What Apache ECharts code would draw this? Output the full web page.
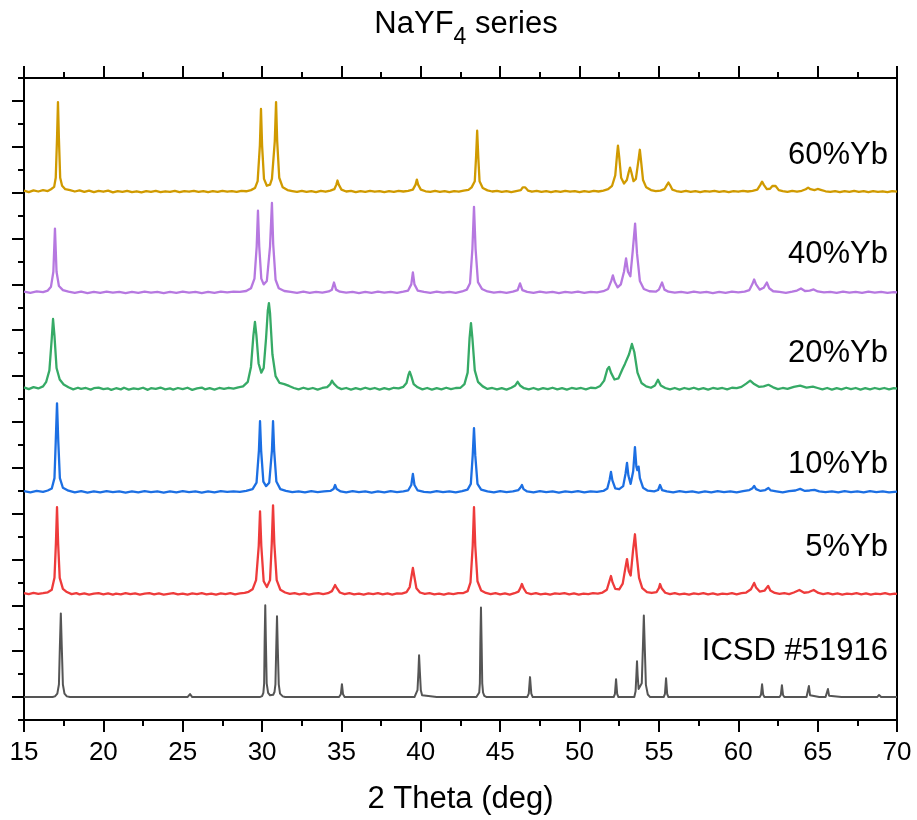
<!DOCTYPE html>
<html>
<head>
<meta charset="utf-8">
<script src="https://cdn.jsdelivr.net/npm/echarts@6/dist/echarts.min.js"></script>
<style>
html, body { margin: 0; padding: 0; background: #fff; }
#chart { width: 917px; height: 820px; }
</style>
</head>
<body>
<div id="chart"></div>
<script>
// Powder XRD patterns of NaYF4 doped with Yb, stacked with vertical offsets.
// Each pattern: [2θ (deg), intensity (a.u.) above its own baseline].

const sampleNames = ['ICSD #51916', '5%Yb', '10%Yb', '20%Yb', '40%Yb', '60%Yb'];
const baselineOffsets = [100, 550, 995, 1445, 1865, 2305];

const xTickValues = [15, 20, 25, 30, 35, 40, 45, 50, 55, 60, 65, 70];

const icsd51916 = [
  [15,0],[16,0],[16.8,0],[16.95,3],[17.1,15],[17.2,55],[17.26,220],[17.32,365],[17.38,220],[17.45,55],[17.55,15],[17.7,3],[17.9,0],
  [19,0],[20,0],[21,0],[22,0],[23,0],[24,0],[25,0],[25.3,0],[25.46,13],[25.6,0],[26.5,0],[27.5,0],[28.5,0],[29.5,0],
  [29.85,0],[30.0,4],[30.08,18],[30.13,60],[30.16,240],[30.2,400],[30.24,240],[30.29,60],[30.38,18],[30.5,8],
  [30.7,10],[30.78,22],[30.84,55],[30.89,210],[30.94,352],[30.99,210],[31.05,55],[31.13,15],[31.3,3],[31.45,0],
  [32.5,0],[33.5,0],[34.5,0],[34.85,0],[34.96,12],[35.03,56],[35.1,12],[35.2,0],[36,0],[37,0],[38,0],[39,0],
  [39.6,0],[39.72,8],[39.79,30],[39.85,110],[39.89,182],[39.94,110],[40.0,30],[40.08,8],[40.2,0],[41,0],[42,0],[43,0],
  [43.5,0],[43.6,5],[43.68,20],[43.72,60],[43.75,235],[43.79,391],[43.83,235],[43.87,60],[43.92,20],[44.0,5],[44.15,0],
  [45,0],[46,0],[46.7,0],[46.8,15],[46.88,87],[46.96,15],[47.05,0],[48,0],[49,0],[50,0],[51,0],
  [52.15,0],[52.23,14],[52.3,78],[52.37,14],[52.45,0],[53,0],
  [53.45,0],[53.53,25],[53.58,95],[53.62,156],[53.66,95],[53.72,35],[53.82,30],[53.92,60],[53.99,215],[54.05,356],[54.11,215],[54.18,53],[54.3,11],[54.45,0],
  [55.3,0],[55.38,14],[55.45,82],[55.52,14],[55.6,0],[56.5,0],[57.5,0],[58.5,0],[59.5,0],
  [60.2,0],[60.3,4],[60.4,0],[61,0],
  [61.35,0],[61.43,10],[61.5,56],[61.57,10],[61.65,0],[62.2,0],
  [62.6,0],[62.68,9],[62.75,52],[62.82,9],[62.9,0],[63.6,0],
  [64.3,0],[64.38,8],[64.45,48],[64.52,8],[64.6,0],[65.1,0],
  [65.5,0],[65.58,6],[65.65,35],[65.72,6],[65.8,0],[66.5,0],[67.5,0],[68.3,0],
  [68.75,0],[68.87,9],[69.0,0],[69.5,0],[70,0]
];

const yb5 = [
  [15,3],[15.3,-1],[15.6,4],[15.9,0],[16.2,3],[16.5,7],[16.75,18],[16.92,70],[17.01,220],[17.08,378],[17.15,220],[17.25,70],[17.45,22],[17.7,8],
  [18.0,-1],[18.3,3],[18.5,-2],[18.8,2],[19.1,-3],[19.4,1],[19.7,3],[20.0,-2],[20.3,2],[20.6,-3],[20.8,1],[21.1,-2],[21.4,3],[21.7,-1],[22.0,2],[22.3,-3],
  [22.6,1],[22.9,3],[23.2,-2],[23.5,2],[23.8,-3],[24.1,0],[24.4,3],[24.7,-2],[25.0,1],[25.3,-3],[25.6,2],[25.9,-1],[26.2,3],[26.5,-2],[26.8,1],[27.1,-3],
  [27.4,2],[27.7,-1],[28.0,3],[28.3,-2],[28.6,2],[28.9,4],[29.15,9],[29.4,20],[29.62,60],[29.79,210],[29.87,360],[29.95,210],[30.1,55],[30.3,30],[30.5,60],
  [30.61,220],[30.69,386],[30.77,220],[30.92,60],[31.15,18],[31.45,6],[31.75,0],[32.05,3],[32.35,-2],[32.65,2],[32.95,-3],[33.25,1],[33.55,3],[33.85,-1],
  [34.15,3],[34.4,12],[34.52,28],[34.6,39],[34.7,26],[34.9,6],[35.2,-1],[35.5,3],[35.8,-2],[36.1,1],[36.4,-3],[36.7,2],[37.0,-1],[37.3,3],[37.6,-2],
  [37.9,2],[38.2,-3],[38.5,2],[38.8,1],[39.1,8],[39.3,30],[39.42,80],[39.5,113],[39.58,80],[39.72,25],[39.95,6],[40.25,0],[40.55,3],[40.85,-2],
  [41.15,1],[41.45,-3],[41.75,2],[42.05,-1],[42.35,3],[42.65,3],[42.95,12],[43.13,50],[43.27,210],[43.35,378],[43.43,210],[43.57,55],[43.8,15],
  [44.1,4],[44.4,-1],[44.7,3],[45.0,-2],[45.3,2],[45.6,-3],[45.9,3],[46.15,10],[46.27,25],[46.37,43],[46.47,25],[46.65,5],[46.95,-1],[47.25,3],
  [47.55,-2],[47.85,1],[48.15,-3],[48.45,2],[48.75,0],[49.05,3],[49.35,-2],[49.65,2],[49.95,-3],[50.25,1],[50.55,-1],[50.85,3],[51.15,1],[51.45,6],
  [51.72,18],[51.88,55],[51.98,78],[52.08,50],[52.25,22],[52.5,20],[52.72,45],[52.88,110],[52.99,152],[53.1,100],[53.22,80],[53.37,190],[53.49,260],
  [53.6,170],[53.75,70],[53.95,25],[54.25,8],[54.55,4],[54.85,8],[55.0,25],[55.07,43],[55.17,25],[55.4,5],[55.7,-1],[56.0,3],[56.3,-2],[56.6,1],
  [56.9,-3],[57.2,2],[57.5,-1],[57.8,3],[58.1,-2],[58.4,2],[58.7,-3],[59.0,1],[59.3,-1],[59.6,3],[59.9,-2],[60.2,3],[60.5,6],[60.8,20],[61.0,48],
  [61.12,28],[61.35,10],[61.65,14],[61.88,35],[62.02,15],[62.3,4],[62.6,0],[62.9,3],[63.2,-1],[63.5,6],[63.85,17],[64.15,5],[64.45,8],[64.75,17],
  [65.05,4],[65.35,-1],[65.65,3],[65.95,-2],[66.25,2],[66.55,-3],[66.85,1],[67.15,-1],[67.45,3],[67.75,-2],[68.05,2],[68.35,-3],[68.65,1],[68.95,-1],
  [69.25,3],[69.55,-2],[69.85,1],[70,0]
];

const yb10 = [
  [15,3],[15.4,-2],[15.8,4],[16.2,0],[16.5,6],[16.75,15],[16.92,60],[17.0,220],[17.08,386],[17.16,220],[17.26,60],[17.45,18],[17.8,5],[18.2,-2],
  [18.6,3],[19.0,-3],[19.4,2],[19.8,-2],[20.2,3],[20.6,-1],[21.0,2],[21.4,-3],[21.8,2],[22.2,-2],[22.6,3],[23.0,-1],[23.4,2],[23.8,-3],[24.2,2],
  [24.6,-2],[25.0,3],[25.4,-1],[25.8,2],[26.2,-3],[26.6,2],[27.0,-2],[27.4,3],[27.8,0],[28.2,2],[28.6,0],[29.0,4],[29.4,12],[29.65,40],[29.8,180],
  [29.87,308],[29.94,180],[30.08,45],[30.25,25],[30.45,40],[30.62,180],[30.69,308],[30.76,180],[30.9,45],[31.15,12],[31.5,4],[31.9,-1],[32.3,2],
  [32.7,-2],[33.1,3],[33.5,-1],[33.9,2],[34.3,4],[34.5,12],[34.6,30],[34.7,12],[34.95,2],[35.3,-2],[35.7,3],[36.1,-1],[36.5,2],[36.9,-3],[37.3,2],
  [37.7,-2],[38.1,3],[38.5,-1],[38.9,2],[39.2,6],[39.4,30],[39.5,78],[39.6,30],[39.8,6],[40.2,0],[40.6,-2],[41.0,3],[41.4,-1],[41.8,2],[42.2,-2],
  [42.6,3],[42.95,10],[43.15,35],[43.27,160],[43.35,278],[43.43,160],[43.57,35],[43.8,10],[44.2,2],[44.6,-2],[45.0,3],[45.4,-1],[45.8,2],[46.15,8],
  [46.27,18],[46.37,30],[46.47,12],[46.7,2],[47.1,-2],[47.5,3],[47.9,-1],[48.3,2],[48.7,-3],[49.1,2],[49.5,-1],[49.9,3],[50.3,-2],[50.7,2],[51.1,0],
  [51.5,4],[51.75,15],[51.9,55],[51.98,87],[52.07,50],[52.25,15],[52.5,12],[52.75,25],[52.9,80],[52.99,126],[53.08,70],[53.22,35],[53.38,90],
  [53.49,195],[53.58,110],[53.64,95],[53.72,110],[53.8,60],[54.0,18],[54.3,5],[54.7,2],[54.95,8],[55.07,30],[55.2,8],[55.5,2],[55.9,-2],[56.3,3],
  [56.7,-1],[57.1,2],[57.5,-3],[57.9,2],[58.3,-2],[58.7,3],[59.1,-1],[59.5,2],[59.9,-2],[60.3,3],[60.7,8],[60.9,16],[61.0,26],[61.12,12],[61.4,4],
  [61.7,8],[61.9,17],[62.05,6],[62.4,2],[62.8,-2],[63.2,3],[63.6,6],[63.9,13],[64.2,4],[64.5,6],[64.8,9],[65.1,2],[65.5,-1],[65.9,2],[66.3,-2],
  [66.7,3],[67.1,-1],[67.5,2],[67.9,-2],[68.3,3],[68.7,-1],[69.1,2],[69.5,-2],[70,1]
];

const yb20 = [
  [15,6],[15.3,-2],[15.6,7],[15.9,1],[16.2,10],[16.4,30],[16.6,80],[16.75,220],[16.83,304],[16.92,230],[17.05,90],[17.25,40],[17.5,18],[17.8,6],
  [18.1,-3],[18.4,4],[18.6,-1],[18.9,3],[19.2,-4],[19.4,2],[19.7,5],[20.0,-2],[20.3,1],[20.5,-5],[20.8,2],[21.1,-3],[21.3,4],[21.6,-4],[21.9,1],
  [22.2,-2],[22.5,4],[22.8,-5],[23.0,2],[23.3,-1],[23.6,5],[23.9,-3],[24.2,1],[24.4,-4],[24.7,3],[25.0,-2],[25.3,4],[25.6,-5],[25.9,1],[26.2,5],
  [26.4,-3],[26.7,2],[27.0,-4],[27.3,3],[27.6,-1],[27.9,4],[28.2,0],[28.5,6],[28.8,10],[29.1,30],[29.3,95],[29.45,230],[29.55,291],[29.64,235],
  [29.78,110],[29.95,70],[30.1,90],[30.25,220],[30.36,340],[30.43,373],[30.5,330],[30.65,150],[30.85,55],[31.1,25],[31.4,20],[31.5,26],[31.7,12],
  [32.0,3],[32.3,-3],[32.6,4],[32.9,-2],[33.2,3],[33.5,-4],[33.8,3],[34.1,7],[34.3,20],[34.4,35],[34.52,22],[34.75,6],[35.0,-2],[35.3,3],[35.6,-4],
  [35.9,2],[36.2,-3],[36.5,4],[36.8,-2],[37.1,3],[37.4,-4],[37.7,2],[38.0,-3],[38.3,4],[38.6,1],[38.9,8],[39.1,25],[39.22,60],[39.3,74],[39.4,55],
  [39.55,20],[39.8,6],[40.1,-3],[40.4,3],[40.7,-4],[41.0,2],[41.3,-3],[41.6,4],[41.9,-2],[42.2,3],[42.5,4],[42.75,20],[42.95,70],[43.07,220],
  [43.16,286],[43.25,220],[43.4,80],[43.6,30],[43.9,10],[44.2,-1],[44.5,3],[44.8,-3],[45.1,2],[45.4,-4],[45.7,4],[45.95,14],[46.1,30],[46.25,14],
  [46.5,2],[46.8,-3],[47.1,3],[47.4,-4],[47.7,2],[48.0,-2],[48.3,4],[48.6,-3],[48.9,2],[49.2,-4],[49.5,3],[49.8,-1],[50.1,3],[50.4,-3],[50.7,4],
  [51.0,2],[51.3,12],[51.55,35],[51.75,85],[51.86,95],[51.98,70],[52.2,40],[52.45,45],[52.7,85],[52.86,108],[52.98,100],[53.12,150],[53.3,195],
  [53.45,160],[53.65,70],[53.9,25],[54.2,10],[54.5,4],[54.75,14],[54.94,39],[55.12,14],[55.4,3],[55.7,-3],[56.0,3],[56.3,-4],[56.6,3],[56.9,-2],
  [57.2,4],[57.5,-3],[57.8,2],[58.1,-4],[58.4,3],[58.7,-1],[59.0,3],[59.3,-3],[59.6,4],[59.9,2],[60.2,8],[60.5,22],[60.75,35],[61.0,20],[61.3,8],
  [61.6,10],[61.9,17],[62.2,6],[62.5,-2],[62.8,3],[63.1,-1],[63.5,8],[63.9,13],[64.3,5],[64.7,9],[65.0,3],[65.3,-3],[65.6,3],[65.9,-4],[66.2,2],
  [66.5,-3],[66.8,4],[67.1,-2],[67.4,3],[67.7,-4],[68.0,2],[68.3,-3],[68.6,3],[68.9,-2],[69.2,3],[69.5,-3],[69.8,2],[70,0]
];

const yb40 = [
  [15,3],[15.4,-2],[15.8,4],[16.2,1],[16.5,8],[16.7,25],[16.85,90],[16.95,278],[17.05,90],[17.2,28],[17.45,10],[17.8,3],[18.2,-2],[18.6,3],
  [19.0,-3],[19.4,2],[19.8,-2],[20.2,3],[20.6,-1],[21.0,2],[21.4,-3],[21.8,2],[22.2,-2],[22.6,3],[23.0,-1],[23.4,2],[23.8,-3],[24.2,2],[24.6,-2],
  [25.0,3],[25.4,-1],[25.8,2],[26.2,-3],[26.6,2],[27.0,-2],[27.4,3],[27.8,0],[28.2,3],[28.6,2],[29.0,6],[29.3,18],[29.52,60],[29.66,200],
  [29.74,356],[29.82,200],[29.95,60],[30.1,35],[30.3,50],[30.5,200],[30.62,390],[30.7,210],[30.85,55],[31.05,18],[31.4,6],[31.8,2],[32.2,-2],
  [32.6,3],[33.0,-2],[33.4,2],[33.8,-1],[34.2,4],[34.4,12],[34.53,43],[34.66,12],[34.9,3],[35.3,-1],[35.7,2],[36.1,-3],[36.5,2],[36.9,-2],[37.3,3],
  [37.7,-1],[38.1,2],[38.5,-2],[38.9,3],[39.2,8],[39.4,35],[39.5,87],[39.6,35],[39.8,8],[40.2,2],[40.6,-2],[41.0,3],[41.4,-1],[41.8,2],[42.2,-2],
  [42.6,4],[42.9,12],[43.1,40],[43.25,190],[43.35,373],[43.45,190],[43.6,45],[43.85,15],[44.2,4],[44.6,-1],[45.0,2],[45.4,-2],[45.8,3],[46.1,10],
  [46.25,39],[46.4,10],[46.7,2],[47.1,-2],[47.5,3],[47.9,-1],[48.3,2],[48.7,-3],[49.1,2],[49.5,-1],[49.9,3],[50.3,-2],[50.7,2],[51.1,0],[51.5,5],
  [51.8,15],[52.0,50],[52.1,74],[52.22,45],[52.4,22],[52.6,35],[52.8,90],[52.93,148],[53.05,90],[53.2,70],[53.35,180],[53.5,300],[53.62,170],
  [53.8,50],[54.05,15],[54.4,5],[54.8,3],[55.0,12],[55.2,43],[55.35,12],[55.6,3],[56.0,-1],[56.4,2],[56.8,-2],[57.2,3],[57.6,-1],[58.0,2],[58.4,-3],
  [58.8,2],[59.2,-2],[59.6,3],[60.0,0],[60.4,3],[60.7,10],[60.88,35],[61.0,56],[61.12,35],[61.35,12],[61.6,20],[61.8,43],[61.95,18],[62.2,5],
  [62.6,2],[63.0,-2],[63.4,3],[63.7,8],[63.95,17],[64.2,6],[64.5,8],[64.75,13],[65.0,4],[65.4,0],[65.8,2],[66.2,-2],[66.6,3],[67.0,-1],[67.4,2],
  [67.8,-2],[68.2,3],[68.6,-1],[69.0,2],[69.4,-2],[69.8,1],[70,0]
];

const yb60 = [
  [15,4],[15.3,-3],[15.6,5],[15.9,0],[16.2,6],[16.5,2],[16.7,10],[16.9,20],[17.0,60],[17.08,230],[17.14,390],[17.2,230],[17.28,60],[17.4,25],
  [17.6,10],[17.9,6],[18.2,0],[18.5,5],[18.8,-2],[19.1,4],[19.4,-3],[19.7,3],[20.0,-1],[20.3,4],[20.6,-4],[20.9,2],[21.2,-2],[21.5,3],[21.8,-3],
  [22.1,1],[22.4,-4],[22.7,2],[23.0,-2],[23.3,3],[23.6,-3],[23.9,1],[24.2,-2],[24.5,3],[24.8,-3],[25.1,2],[25.4,-1],[25.7,3],[26.0,-2],[26.3,2],
  [26.6,-3],[26.9,2],[27.2,-2],[27.5,3],[27.8,-1],[28.1,2],[28.4,-2],[28.7,3],[29.0,1],[29.3,6],[29.55,15],[29.72,45],[29.86,200],[29.93,360],
  [30.0,200],[30.12,55],[30.3,25],[30.5,30],[30.62,55],[30.8,220],[30.88,390],[30.95,220],[31.08,60],[31.3,18],[31.6,6],[31.9,2],[32.2,-2],[32.5,3],
  [32.8,-2],[33.1,2],[33.4,-3],[33.7,3],[34.0,-1],[34.3,4],[34.55,10],[34.68,30],[34.75,48],[34.83,30],[35.0,8],[35.3,0],[35.6,3],[35.9,-3],
  [36.2,2],[36.5,-2],[36.8,3],[37.1,-1],[37.4,2],[37.7,-3],[38.0,2],[38.3,-2],[38.6,3],[38.9,0],[39.2,3],[39.5,8],[39.67,30],[39.75,52],[39.83,30],
  [40.0,8],[40.3,1],[40.6,-2],[40.9,3],[41.2,-2],[41.5,2],[41.8,-3],[42.1,2],[42.4,-1],[42.7,4],[43.0,7],[43.2,18],[43.4,45],[43.48,150],
  [43.55,265],[43.62,150],[43.7,45],[43.9,15],[44.2,5],[44.5,0],[44.8,3],[45.1,-2],[45.4,2],[45.7,-3],[46.0,2],[46.3,6],[46.42,18],[46.5,26],
  [46.58,18],[46.75,4],[47.0,-1],[47.3,3],[47.6,-2],[47.9,2],[48.2,-3],[48.5,2],[48.8,-2],[49.1,3],[49.4,-1],[49.7,2],[50.0,-3],[50.3,2],[50.6,-2],
  [50.9,3],[51.2,0],[51.5,4],[51.8,10],[52.05,25],[52.25,70],[52.35,150],[52.42,200],[52.5,150],[52.62,60],[52.8,35],[52.98,50],[53.1,85],
  [53.18,104],[53.26,85],[53.4,45],[53.55,55],[53.7,130],[53.8,182],[53.88,130],[54.0,50],[54.2,18],[54.5,6],[54.8,2],[55.1,4],[55.35,10],
  [55.5,28],[55.6,39],[55.7,28],[55.85,8],[56.1,2],[56.4,-2],[56.7,3],[57.0,-2],[57.3,2],[57.6,-3],[57.9,2],[58.2,-1],[58.5,3],[58.8,-2],[59.1,2],
  [59.4,-3],[59.7,2],[60.0,-1],[60.3,3],[60.6,0],[60.9,3],[61.2,8],[61.38,28],[61.5,43],[61.62,28],[61.8,10],[62.0,12],[62.15,24],[62.25,30],
  [62.35,24],[62.55,6],[62.8,2],[63.1,-2],[63.4,3],[63.7,-1],[64.0,3],[64.25,10],[64.4,17],[64.55,10],[64.8,6],[65.0,11],[65.1,13],[65.25,6],
  [65.5,1],[65.8,-2],[66.1,2],[66.4,-3],[66.7,2],[67.0,-2],[67.3,3],[67.6,-2],[67.9,2],[68.2,-3],[68.5,2],[68.8,-2],[69.1,1],[69.4,-3],[69.7,2],[70,-1]
];

const patterns = [icsd51916, yb5, yb10, yb20, yb40, yb60];

// ---- styling / layout ----
const lineColors = ['#555555', '#EE3B3B', '#1C6FE3', '#36AA66', '#B678E0', '#D09A00'];
const lineWidths = [2, 2.3, 2.3, 2.3, 2.3, 2.3];
const Y_MAX = 2800;
const majorYTicks = [];
const minorYTicks = [];
for (let v = 0; v <= Y_MAX; v += 100) ((v / 100) % 2 ? majorYTicks : minorYTicks).push(v);
const labelAnchorX = 69.43;
const labelLevels = [300, 751, 1116, 1597, 2032, 2461];
const FONT = '"Liberation Sans", Arial, Helvetica, sans-serif';
const axisStroke = { color: '#000', width: 2 };

const chart = echarts.init(document.getElementById('chart'), null, { renderer: 'canvas' });

const xBase = {
  type: 'value', min: 15, max: 70, interval: 5,
  axisLine: { show: true, onZero: false, lineStyle: axisStroke },
  axisTick: { show: true, length: 12, lineStyle: axisStroke },
  minorTick: { show: true, splitNumber: 2, length: 6, lineStyle: axisStroke },
  splitLine: { show: false }
};

chart.setOption({
  animation: false,
  backgroundColor: '#fff',
  title: {
    text: '{n|NaYF}{s|4}{n| series}',
    left: 466, top: 9, padding: 0, textAlign: 'center',
    textStyle: {
      fontWeight: 'normal',
      rich: {
        n: { fontFamily: FONT, fontSize: 31, fontWeight: 'normal', color: '#000', lineHeight: 34, verticalAlign: 'top' },
        s: { fontFamily: FONT, fontSize: 23, fontWeight: 'normal', color: '#000', lineHeight: 23, padding: [17, 0, 0, 0], verticalAlign: 'top' }
      }
    }
  },
  grid: { left: 24, right: 20, top: 78, bottom: 97, containLabel: false },
  xAxis: [
    Object.assign({}, xBase, {
      position: 'bottom',
      axisLabel: { show: true, fontFamily: FONT, fontSize: 26, color: '#000', margin: 20,
        customValues: xTickValues },
      name: '2 Theta (deg)', nameLocation: 'middle', nameGap: 64,
      nameTextStyle: { fontFamily: FONT, fontSize: 31, color: '#000' }
    }),
    Object.assign({}, xBase, { position: 'top', axisLabel: { show: false } })
  ],
  yAxis: [
    {
      type: 'value', min: 0, max: Y_MAX, position: 'left',
      axisLine: { show: true, onZero: false, lineStyle: axisStroke },
      axisTick: { show: true, length: 12, lineStyle: axisStroke, customValues: majorYTicks },
      axisLabel: { show: false }, splitLine: { show: false }
    },
    {
      type: 'value', min: 0, max: Y_MAX, position: 'left',
      axisLine: { show: false },
      axisTick: { show: true, length: 6, lineStyle: axisStroke, customValues: minorYTicks },
      axisLabel: { show: false }, splitLine: { show: false }
    },
    {
      type: 'value', min: 0, max: Y_MAX, position: 'right',
      axisLine: { show: true, onZero: false, lineStyle: axisStroke },
      axisTick: { show: false }, axisLabel: { show: false }, splitLine: { show: false }
    }
  ],
  series: patterns.map((pts, i) => ({
    name: sampleNames[i],
    type: 'line',
    xAxisIndex: 0, yAxisIndex: 0,
    symbol: 'none', showSymbol: false,
    smooth: false, sampling: null,
    lineStyle: { color: lineColors[i], width: lineWidths[i], join: 'round' },
    itemStyle: { color: lineColors[i] },
    data: pts.map(([x, y]) => [x, y + baselineOffsets[i]]),
    z: 2 + i
  }))
});

// sample names placed at the right end of each trace
chart.setOption({
  graphic: sampleNames.map((name, i) => {
    const p = chart.convertToPixel({ xAxisIndex: 0, yAxisIndex: 0 }, [labelAnchorX, labelLevels[i]]);
    return {
      type: 'text', x: p[0], y: p[1], z: 100,
      style: { text: name, fill: '#000', font: '31px ' + FONT, textAlign: 'right', textVerticalAlign: 'middle' }
    };
  })
});
</script>
</body>
</html>
